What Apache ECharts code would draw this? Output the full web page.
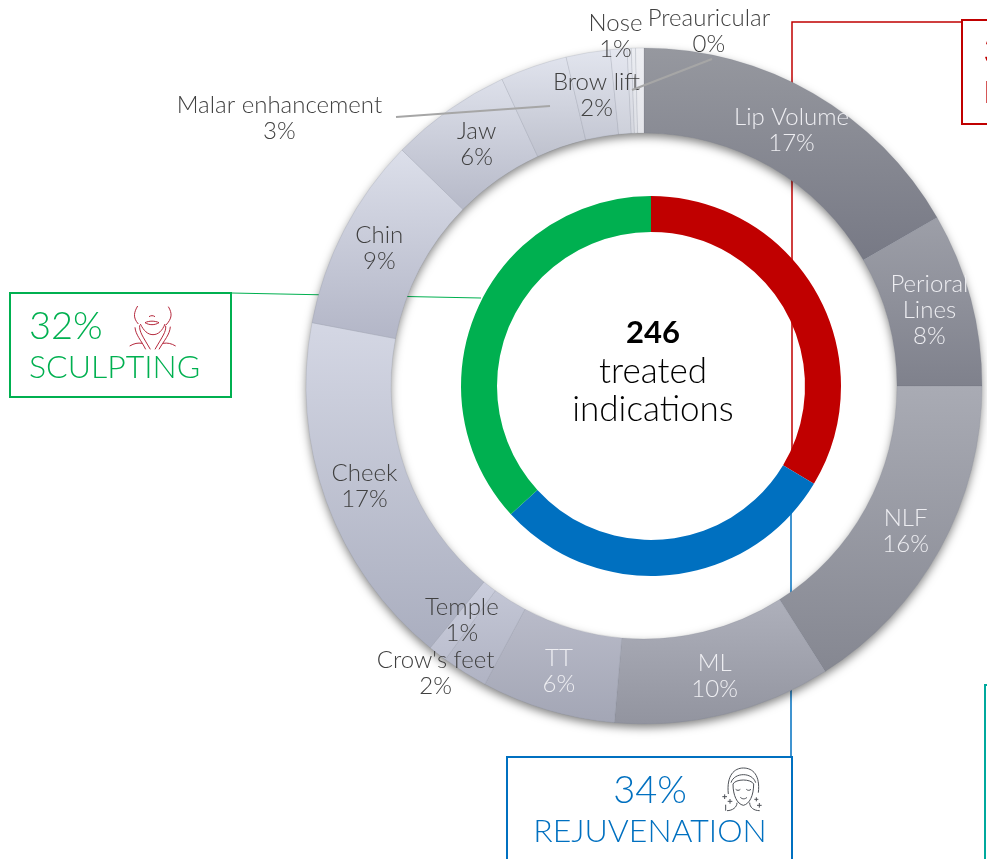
<!DOCTYPE html>
<html>
<head>
<meta charset="utf-8">
<title>Treated indications</title>
<script src="https://cdn.jsdelivr.net/npm/echarts@6/dist/echarts.min.js"></script>
<style>
  html, body { margin: 0; padding: 0; background: #fff; overflow: hidden; }
  #chart { width: 987px; height: 859px; }
</style>
</head>
<body>
<div id="chart"></div>
<script>
// outer ring, clockwise from 12 o'clock (the last two slices have no label)
const indications = ["Lip Volume", "Perioral\nLines", "NLF", "ML", "TT", "Crow's feet", "Temple", "Cheek", "Chin", "Jaw", "Malar enhancement", "Brow lift", "Nose", "Preauricular", "", ""];
const shares = [16.7, 8.3, 16.0, 10.4, 6.4, 2.2, 0.9, 17.1, 9.3, 5.8, 3.2, 2.1, 0.8, 0.2, 0.2, 0.4];

// inner ring
const groups = ["Restoration", "Rejuvenation", "Sculpting"];
const groupShares = [33.6, 29.6, 36.8];
const groupColors = ["#c00000", "#0070c0", "#00b050"];

const FONT = "Lato";

// top and bottom colour of each outer slice
const sliceTop = ["#96989f", "#9d9fa8", "#a9abb4", "#aeb0bb", "#b9bbc9", "#c3c6d5", "#cbcedd", "#d4d7e4", "#dcdfea", "#dde0ea", "#e0e3ed", "#e2e5ee", "#e5e7f0", "#e8eaf1", "#ebedf2", "#eeeff3"];
const sliceBottom = ["#777985", "#7f818c", "#858791", "#92949f", "#a3a6b5", "#b0b3c3", "#bcbfcf", "#aaaebf", "#b3b6c7", "#b6b9c8", "#bfc2ce", "#c5c8d4", "#cdd0da", "#d5d7df", "#dddfe5", "#e4e5ea"];
const labelColors = ["#eeeef2", "#eeeef2", "#eeeef2", "#eeeef2", "#eeeef2", "#404040", "#404040", "#404040", "#404040", "#404040", "#404040", "#404040", "#404040", "#404040", "#404040", "#404040"];

// label nudges, the big ones are labels moved off their slice in the original
const labelShift = {
  "Lip Volume": [-2, 3],
  "Perioral\nLines": [-3, 1],
  "NLF": [0, 1],
  "TT": [0, -1],
  "Crow's feet": [-50, 34],
  "Temple": [0, -2],
  "Cheek": [1, -2],
  "Jaw": [5, 2],
  "Brow lift": [2, 4],
  "Nose": [-6, -52],
  "Malar enhancement": [-267, 14],
  "Preauricular": [78, -57]
};

const outerData = indications.map((name, i) => ({
  name: name,
  value: shares[i],
  itemStyle: {
    color: new echarts.graphic.LinearGradient(0, 0, 0, 1, [
      { offset: 0, color: sliceTop[i] },
      { offset: 1, color: sliceBottom[i] }
    ])
  },
  label: { show: name !== "", color: labelColors[i] },
  labelLine: { show: false }
}));

const line = (points, color, width, z) => ({
  type: "polyline",
  z: z,
  silent: true,
  shape: { points: points },
  style: { stroke: color, lineWidth: width, fill: null }
});
const box = (x, y, w, h, color) => ({
  type: "rect",
  z: 5,
  silent: true,
  shape: { x: x, y: y, width: w, height: h },
  style: { stroke: color, lineWidth: 2, fill: "#fff" }
});
const text = (str, x, y, size, color, weight, align) => ({
  type: "text",
  z: 6,
  silent: true,
  x: x,
  y: y,
  style: {
    text: str,
    fill: color,
    font: (weight || "300") + " " + size + "px " + FONT,
    textAlign: align || "left",
    textVerticalAlign: "middle"
  }
});
// icons are traced at 3x and scaled back down
// each stroke: 4 numbers is a straight line, 8 numbers a cubic curve
const icon = (x, y, color, strokes, width) => ({
  type: "group",
  x: x,
  y: y,
  scaleX: 1 / 3,
  scaleY: 1 / 3,
  z: 6,
  silent: true,
  children: strokes.map((s) => ({
    type: s.length === 4 ? "line" : "bezierCurve",
    z: 6,
    silent: true,
    shape: s.length === 4
      ? { x1: s[0], y1: s[1], x2: s[2], y2: s[3] }
      : { x1: s[0], y1: s[1], cpx1: s[2], cpy1: s[3], cpx2: s[4], cpy2: s[5], x2: s[6], y2: s[7] },
    style: { stroke: color, lineWidth: width, fill: null }
  }))
});

const sculptIcon = [
  [38, 18, 28, 35, 22, 52, 40, 72],
  [130, 20, 142, 40, 142, 55, 122, 76],
  [46, 72, 56, 92, 68, 104, 84, 104],
  [84, 104, 100, 104, 112, 92, 120, 72],
  [72, 50, 78, 46, 84, 46, 90, 50],
  [60, 68, 72, 62, 90, 62, 102, 68],
  [60, 68, 72, 76, 90, 76, 102, 68],
  [30, 82, 32, 105, 48, 120, 62, 148],
  [44, 76, 42, 95, 54, 110, 76, 148],
  [136, 80, 134, 105, 118, 120, 102, 148],
  [122, 78, 124, 95, 112, 110, 90, 148],
  [14, 138, 28, 130, 38, 128, 52, 130],
  [152, 138, 138, 130, 128, 128, 114, 130]
];
const headIcon = [
  [40, 96, 34, 40, 58, 18, 85, 18],
  [85, 18, 114, 18, 136, 40, 130, 92],
  [48, 62, 58, 30, 112, 30, 122, 62],
  [54, 66, 62, 50, 108, 50, 116, 66],
  [54, 66, 54, 100, 66, 126, 85, 130],
  [85, 130, 104, 126, 116, 100, 116, 66],
  [62, 82, 66, 86, 72, 86, 76, 82],
  [94, 82, 98, 86, 104, 86, 108, 82],
  [76, 106, 82, 112, 90, 112, 96, 106],
  [66, 122, 66, 136, 52, 146, 36, 146],
  [104, 122, 104, 136, 116, 146, 134, 146],
  [22, 104, 36, 104], [29, 97, 29, 111],
  [38, 118, 52, 118], [45, 111, 45, 125],
  [118, 112, 130, 112], [124, 106, 124, 118],
  [126, 130, 140, 130], [133, 123, 133, 137],
  [32, 128, 32, 146]
];

const graphics = [
  // connectors run behind the rings
  line([[962, 22], [792, 22], [792, 465]], "#c00000", 1.5, 0),
  line([[791, 510], [791, 757]], "#0070c0", 1.5, 0),
  line([[231, 293], [481, 298]], "#00b050", 1.2, 0),
  // leader lines over the ring
  line([[396, 117], [550, 106]], "#a6a6a6", 2, 20),
  line([[632, 90], [712, 59]], "#a6a6a6", 2, 20),

  box(10, 293, 221, 104, "#00b050"),
  text("32%", 29, 327, 38, "#00b050"),
  text("SCULPTING", 29, 368, 32, "#00b050"),
  icon(125, 300, "#b5283c", sculptIcon, 3),

  box(507, 757, 285, 120, "#0070c0"),
  text("34%", 650, 791, 38, "#0070c0", "300", "center"),
  text("REJUVENATION", 650, 832, 32, "#0070c0", "300", "center"),
  icon(715, 762, "#4d5157", headIcon, 3),

  box(962, 20, 60, 104, "#c00000"),
  text("3", 983, 52, 38, "#c00000"),
  text("R", 983, 93, 32, "#c00000"),

  box(985, 685, 30, 200, "#00a99d"),

  text("246", 653, 333, 31, "#000", "bold", "center"),
  text("treated", 653, 372, 35, "#000", "300", "center"),
  text("indications", 653, 410, 35, "#000", "300", "center")
];

const chart = echarts.init(document.getElementById("chart"));

chart.setOption({
  animation: false,
  graphic: graphics,
  series: [
    {
      // one plain ring underneath so the drop shadow does not fall on the slices
      type: "pie",
      silent: true,
      z: 1,
      center: [644, 386],
      radius: [253.5, 337.5],
      label: { show: false },
      labelLine: { show: false },
      data: [{
        value: 1,
        itemStyle: {
          color: "#d0d2dc",
          shadowBlur: 10,
          shadowOffsetY: 4,
          shadowColor: "rgba(0,0,0,0.5)"
        }
      }]
    },
    {
      name: "Indications",
      type: "pie",
      z: 2,
      center: [644, 386],
      radius: [253, 338],
      startAngle: 90,
      avoidLabelOverlap: false,
      minShowLabelAngle: 0,
      itemStyle: { borderColor: "rgba(110,112,125,0.3)", borderWidth: 0.5 },
      label: {
        position: "inside",
        fontFamily: FONT,
        fontWeight: 300,
        fontSize: 24,
        lineHeight: 26,
        formatter: (p) => p.name + "\n" + Math.round(p.value) + "%"
      },
      labelLayout: (p) => {
        const shift = labelShift[indications[p.dataIndex]];
        return shift ? { dx: shift[0], dy: shift[1] } : {};
      },
      data: outerData
    },
    {
      name: "Groups",
      type: "pie",
      z: 3,
      center: [651, 386],
      radius: [154, 190],
      startAngle: 90,
      label: { show: false },
      labelLine: { show: false },
      data: groups.map((name, i) => ({
        name: name,
        value: groupShares[i],
        itemStyle: { color: groupColors[i] }
      }))
    }
  ]
});
</script>
</body>
</html>
